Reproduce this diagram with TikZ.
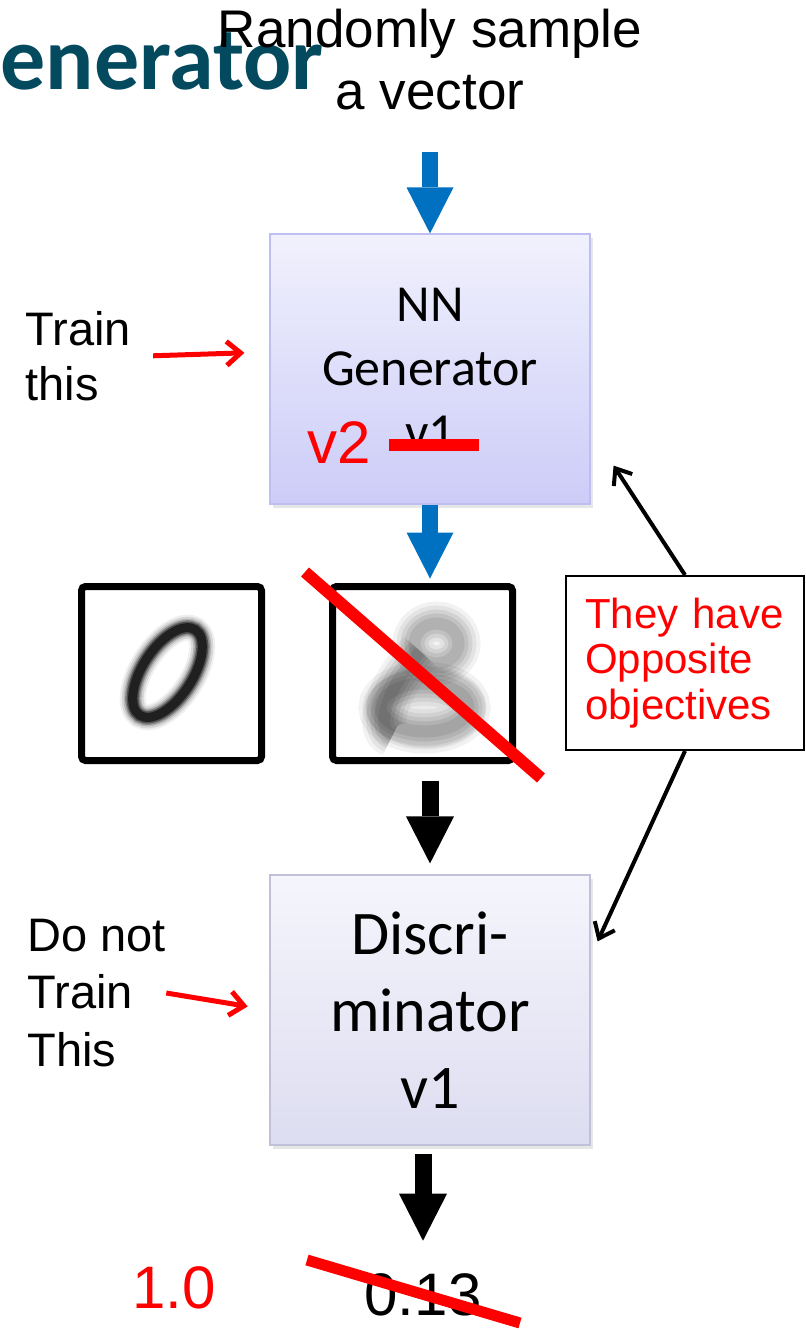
\documentclass[tikz,border=0pt]{standalone}
\usepackage{fontspec}
\setmainfont{Liberation Sans}
\newfontfamily\carlito{Carlito}
\usetikzlibrary{arrows.meta,shadows}

\definecolor{titleteal}{RGB}{4,74,94}
\definecolor{arrowblue}{RGB}{0,112,192}
\definecolor{genedge}{RGB}{190,190,240}
\definecolor{gentop}{RGB}{241,241,253}
\definecolor{genbottom}{RGB}{204,204,248}
\definecolor{discedge}{RGB}{192,192,216}
\definecolor{disctop}{RGB}{245,245,252}
\definecolor{discbottom}{RGB}{221,221,241}

\tikzset{
	genbox/.style={rectangle, draw=genedge, line width=0.6pt, top color=gentop, bottom color=genbottom,
		minimum width=160pt, minimum height=135pt, align=center,
		font=\carlito\fontsize{26}{32}\selectfont,
		drop shadow={shadow xshift=1.5pt, shadow yshift=-2pt, opacity=0.2}},
	discbox/.style={genbox, draw=discedge, top color=disctop, bottom color=discbottom,
		font=\carlito\fontsize{31}{38.5}\selectfont},
	imgframe/.style={rectangle, draw=black, line width=3.5pt, rounded corners=2pt, fill=white,
		minimum width=90pt, minimum height=87pt, inner sep=0},
	notebox/.style={rectangle, draw=black, line width=1pt, fill=white, text=red,
		minimum width=119pt, minimum height=87pt, text width=100pt, inner xsep=9.5pt,
		align=left, font=\fontsize{21}{22.75}\selectfont},
	bluearrow/.style={arrowblue, line width=8pt, -{Triangle[width=23.5pt,length=23pt,line width=0pt]}},
	blackarrow/.style={black, line width=8.5pt, -{Triangle[width=24pt,length=23.5pt,line width=0pt]}},
	redarrow/.style={red, line width=2.5pt, -{Straight Barb[length=7pt,width=12pt]}},
	pairarrow/.style={black, line width=2pt, -{Straight Barb[length=7pt,width=11pt]}},
	strike/.style={red, line width=6pt}
}

\begin{document}
\begin{tikzpicture}[x=0.5pt,y=-0.5pt]
	\clip (0,0) rectangle (805,1330);

	\node[anchor=base west, inner sep=0, text=titleteal, font=\carlito\bfseries\fontsize{45}{50}\selectfont] (title) at (-57,89) {Generator};
	\node[align=center, inner sep=0, font=\fontsize{26.5}{31}\selectfont] (sample) at (430,60) {Randomly sample\\a vector};

	\node[genbox] (gen) at (430,369) {NN\\Generator\\v1};
	\node[discbox] (disc) at (430,1010) {Discri-\\minator\\v1};

	\node[imgframe] (real) at (171.5,673.5) {};
	\node[imgframe] (fake) at (422.5,673.5) {};

	% handwritten zero, soft edges
	\begin{scope}[shift={([xshift=-2pt,yshift=0.5pt]real.center)}, rotate=-33]
		\foreach \w/\o in {13pt/0.06, 11pt/0.1, 9pt/0.15, 7.5pt/0.25, 6pt/0.4, 4.5pt/0.6}
			\draw[line width=\w, black, opacity=\o] (0,0) ellipse [x radius=12.5pt, y radius=25.5pt];
	\end{scope}

	% blurry generated digit
	\begin{scope}[shift={(fake.center)}]
		\fill[black, opacity=0.08] (3,34) ellipse [x radius=30pt, y radius=20pt];
		\foreach \w/\o in {22pt/0.05, 18pt/0.06, 14pt/0.07, 10pt/0.08, 6pt/0.08}{
			\draw[line width=\w, black, opacity=\o] (14,-30) ellipse [x radius=11pt, y radius=10pt];
			\draw[line width=\w, black, opacity=\o] (2,34) ellipse [x radius=22pt, y radius=12pt];
			\draw[line width=\w, black, opacity=\o] (-2,-22) .. controls (-36,14) and (-48,56) .. (-30,62);
		}
	\end{scope}
	\draw[strike] (305,572) -- (541,778);

	\node[notebox] (note) at (685,663) {They have\\Opposite\\objectives};

	\node[anchor=west, inner sep=0, align=left, font=\fontsize{23.5}{27.5}\selectfont] (trainme) at (25,356.5) {Train\\this};
	\node[anchor=west, inner sep=0, align=left, font=\fontsize{23.5}{28.75}\selectfont] (donttrain) at (27,993) {Do not\\Train\\This};

	\node[anchor=base, inner sep=0, font=\fontsize{30}{36}\selectfont] (score) at (423,1315) {0.13};
	\node[anchor=base, inner sep=0, text=red, font=\fontsize{30}{36}\selectfont] (newscore) at (174,1308) {1.0};
	\node[anchor=base west, inner sep=0, text=red, font=\fontsize{30}{36}\selectfont] (newver) at (307,463) {v2};

	\draw[strike] (389,445) -- (479,445);
	\draw[strike, line width=5.5pt] (307,1260) -- (520,1323);

	\draw[bluearrow, shorten <=20.5pt] (sample) -- (gen);
	\draw[bluearrow, shorten >=2.25pt] (gen) -- (gen |- fake.north);
	\draw[blackarrow, shorten <=8.25pt, shorten >=5.5pt] (disc |- fake.south) -- (disc);
	\draw[blackarrow, shorten <=4pt, shorten >=16pt] (score |- disc.south) -- (score);

	\draw[redarrow, shorten <=11pt, shorten >=12.5pt] (trainme.east) -- ([yshift=8.5pt]gen.west);
	\draw[redarrow, shorten >=11pt] (donttrain.east) -- (disc.west);

	\draw[pairarrow] (note.north) -- ([xshift=11.5pt,yshift=19.5pt]gen.south east);
	\draw[pairarrow] (note.south) -- ([xshift=3.5pt,yshift=-33.5pt]disc.north east);

\end{tikzpicture}
\end{document}
